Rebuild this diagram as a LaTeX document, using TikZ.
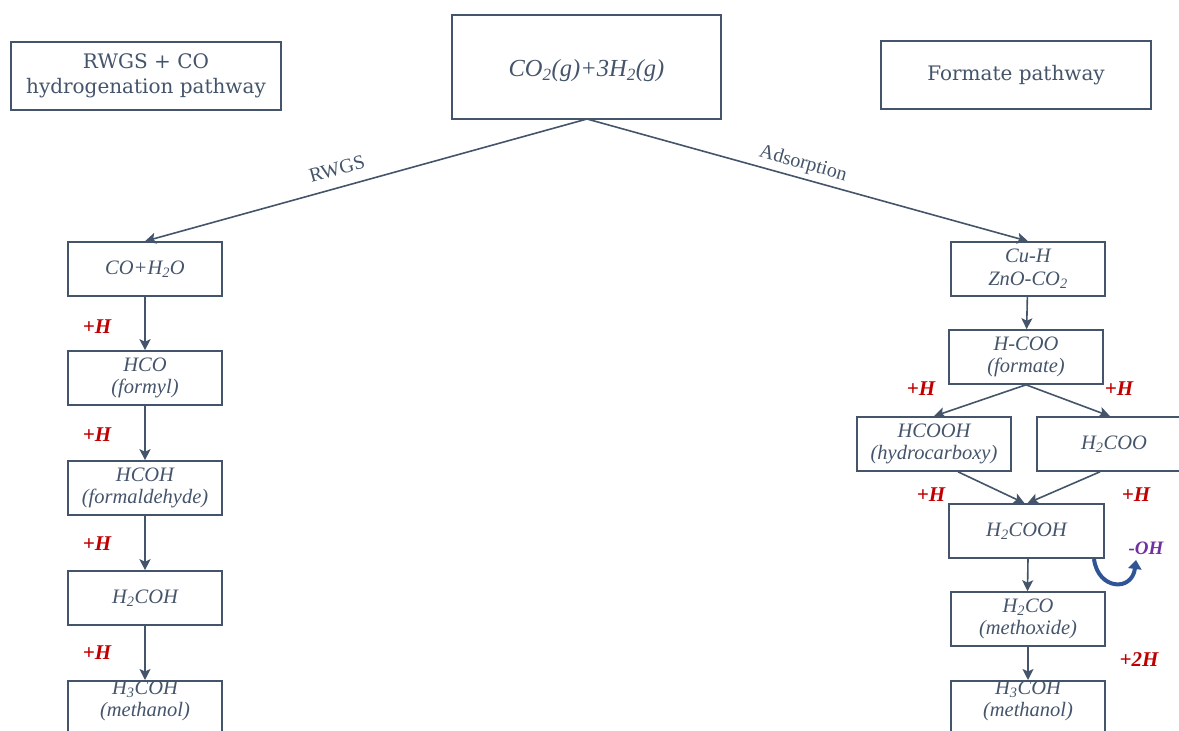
\documentclass[tikz,border=0pt]{standalone}
\usepackage{fontspec}
\setmainfont{Liberation Serif}
\newfontfamily\slab{DejaVu Serif}
\usetikzlibrary{arrows.meta}
\definecolor{slate}{HTML}{44546A}
\definecolor{hred}{HTML}{C00000}
\definecolor{ohpurple}{HTML}{7030A0}
\definecolor{curvblue}{HTML}{2F5597}
\tikzset{
  box/.style={draw=slate, line width=1.6pt, fill=white, inner sep=0pt, align=center,
    text=slate, font=\fontsize{20.5}{22.5}\selectfont\itshape},
  title/.style={draw=slate, line width=1.6pt, inner sep=0pt, align=center,
    text=slate, font=\slab\fontsize{20}{25}\selectfont},
  conn/.style={draw=slate, line width=1.6pt, -{Stealth[length=11pt,width=11pt,inset=2.5pt]}},
  hlab/.style={text=hred, font=\fontsize{21}{22}\selectfont\bfseries\itshape, inner sep=0pt},
  pathlab/.style={text=slate, font=\fontsize{20}{22}\selectfont, inner sep=0pt}
}
\begin{document}
\begin{tikzpicture}[x=1pt,y=-1pt]
\useasboundingbox (0,0) rectangle (1179,731);
\clip (0,0) rectangle (1179,731);
% titles
\node[title, minimum width=270pt, minimum height=68pt] (t1) at (146,76) {RWGS + CO\\hydrogenation pathway};
\node[title, minimum width=270pt, minimum height=68pt] (t2) at (1016,75) {Formate pathway};
\node[box, minimum width=269pt, minimum height=104pt] (top) at (586.5,67) {};
\node[text=slate, inner sep=0pt, font=\fontsize{24.5}{26}\selectfont\itshape] (toptxt) at ([yshift=-4pt]top.center) {CO\textsubscript{2}(g)+3H\textsubscript{2}(g)};
% left column
\node[box, minimum width=154pt, minimum height=54pt] (l1) at (145,269) {CO+H\textsubscript{2}O};
\node[box, minimum width=154pt, minimum height=54pt] (l2) at (145,378) {HCO\\(formyl)};
\node[box, minimum width=154pt, minimum height=54pt] (l3) at (145,488) {HCOH\\(formaldehyde)};
\node[box, minimum width=154pt, minimum height=54pt] (l4) at (145,598) {H\textsubscript{2}COH};
\node[box, minimum width=154pt, minimum height=64pt, anchor=north] (l5) at (145,680) {H\textsubscript{3}COH\\(methanol)\\[10pt]};
% right column
\node[box, minimum width=154pt, minimum height=54pt] (r1) at (1028,269) {Cu-H\\ZnO-CO\textsubscript{2}};
\node[box, minimum width=154pt, minimum height=54pt] (r2) at (1026,357) {H-COO\\(formate)};
\node[box, minimum width=154pt, minimum height=54pt] (r3a) at (934,444) {HCOOH\\(hydrocarboxy)};
\node[box, minimum width=154pt, minimum height=54pt] (r3b) at (1114,444) {H\textsubscript{2}COO};
\node[box, minimum width=155pt, minimum height=54pt] (r4) at (1026.5,531) {H\textsubscript{2}COOH};
\node[box, minimum width=154pt, minimum height=54pt] (r5) at (1028,619) {H\textsubscript{2}CO\\(methoxide)};
\node[box, minimum width=154pt, minimum height=64pt, anchor=north] (r6) at (1028,680) {H\textsubscript{3}COH\\(methanol)\\[10pt]};
% connectors
\coordinate (topb) at (587,119);
\draw[conn] (topb) -- (l1.north);
\draw[conn] (topb) -- (r1.north);
\draw[conn] (l1) -- (l2);
\draw[conn] (l2) -- (l3);
\draw[conn] (l3) -- (l4);
\draw[conn] (l4.south) -- (l5.north);
\draw[conn] (r1) -- (r2);
\draw[conn] (r2.south) -- (r3a.north);
\draw[conn] (r2.south) -- ([xshift=-4pt]r3b.north);
\draw[conn] ([xshift=24pt]r3a.south) -- ([xshift=-2pt]r4.north);
\draw[conn] ([xshift=-14pt]r3b.south) -- ([xshift=1pt]r4.north);
\draw[conn] ([xshift=1.5pt]r4.south) -- ([xshift=-0.5pt]r5.north);
\draw[conn] (r5.south) -- (r6.north);
% path labels
\node[pathlab, rotate=15.6] (rwgs) at (337,169) {RWGS};
\node[pathlab, rotate=-15.6] (ads) at (803,164) {Adsorption};
% +H labels
\node[hlab] (h1) at (97,327) {+H};
\node[hlab] (h2) at (97,435) {+H};
\node[hlab] (h3) at (97,544) {+H};
\node[hlab] (h4) at (97,653) {+H};
\node[hlab] (h5) at (921,389) {+H};
\node[hlab] (h6) at (1119,389) {+H};
\node[hlab] (h7) at (931,495) {+H};
\node[hlab] (h8) at (1136,495) {+H};
\node[hlab] (h9) at (1139,660) {+2H};
\node[hlab, text=ohpurple, font=\fontsize{19}{20}\selectfont\bfseries\itshape] (oh) at (1146,548) {-OH};
% curved arrow
\coordinate (ca) at (1094,559);
\coordinate (cb) at (1136,560);
\draw[draw=curvblue, line width=4pt, -{Triangle[length=9pt,width=13pt]}] (ca) .. controls (1098,590) and (1132,592) .. (cb);
\end{tikzpicture}
\end{document}
